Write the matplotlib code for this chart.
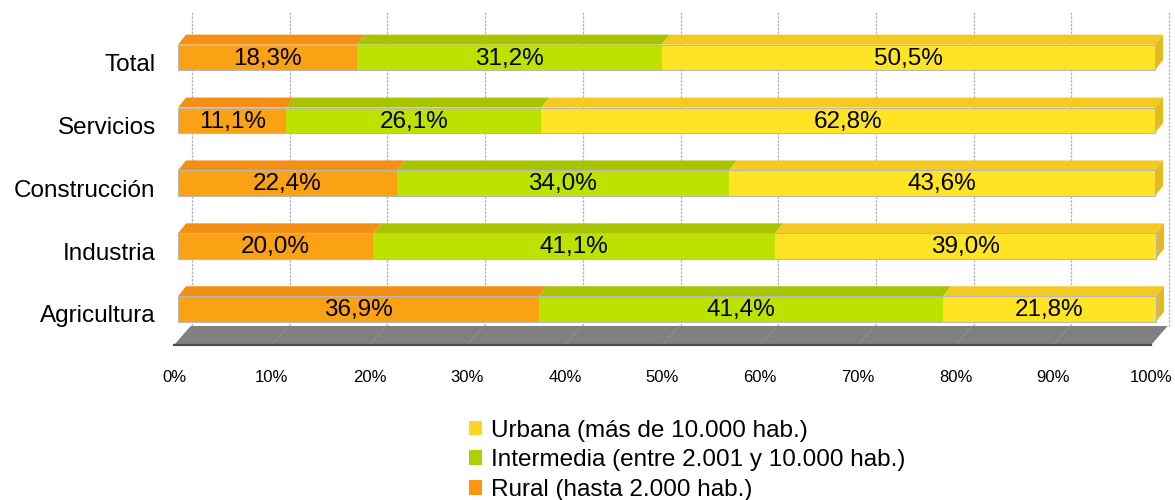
import matplotlib
matplotlib.use('Agg')
from matplotlib import pyplot as plt
from matplotlib.patches import Polygon, Rectangle, Patch
import matplotlib.transforms as mtransforms
import numpy as np

plt.rcParams['font.family'] = ['Liberation Sans', 'DejaVu Sans']

# data (bottom to top)
categories = ['Agricultura', 'Industria', 'Construcción', 'Servicios', 'Total']
rural = [36.9, 20.0, 22.4, 11.1, 18.3]
intermedia = [41.4, 41.1, 34.0, 26.1, 31.2]
urbana = [21.8, 39.0, 43.6, 62.8, 50.5]
series_names = ['Rural (hasta 2.000 hab.)',
                'Intermedia (entre 2.001 y 10.000 hab.)',
                'Urbana (más de 10.000 hab.)']
xticks = [0, 10, 20, 30, 40, 50, 60, 70, 80, 90, 100]

# colours: front face, top face, legend swatch
front_cols = ['#faa214', '#bee200', '#ffe423']
top_cols = ['#f38f12', '#a8c400', '#f4ca22']
side_col = '#e3bb1f'
legend_cols = ['#ff950e', '#aecf00', '#ffd320']

# 3d look (data units)
bar_h = 0.405
dx, dy = 0.82, 0.159          # bar depth
wall_dx = 1.43                # back wall offset
wall_top = 4.72
floor_y0, floor_y1 = -0.572, -0.27
floor_x0, floor_dx = -0.41, 1.71

fig = plt.figure(figsize=(11.75, 5.0), dpi=100)
ax = fig.add_axes([0.13486, 0.2688, 0.8648, 0.7234])
ax.set_xlim(-2, 102)
ax.set_ylim(-0.9, 4.85)
for s in ax.spines.values():
    s.set_visible(False)

# back wall grid
for t in xticks:
    ax.plot([t + wall_dx, t + wall_dx], [floor_y1, wall_top], color='#b3b3b3',
            lw=0.9, ls=(0, (2, 1)), zorder=1)

# floor
fl = Polygon([(floor_x0, floor_y0), (floor_x0 + 100, floor_y0),
              (floor_x0 + 100 + floor_dx, floor_y1), (floor_x0 + floor_dx, floor_y1)],
             closed=True, facecolor='#808080', edgecolor='none', zorder=2)
ax.add_patch(fl)
for t in xticks[1:-1]:
    ax.plot([t + floor_x0, t + floor_x0 + floor_dx], [floor_y0, floor_y1],
            color='#8e8e8e', lw=0.7, zorder=2)
ax.plot([floor_x0, floor_x0 + 100], [floor_y0, floor_y0], color='#4d4d4d', lw=1.6, zorder=3)

# bars
data = np.array([rural, intermedia, urbana])
for i in range(len(categories)):
    left = 0
    y0 = i - bar_h / 2
    y1 = i + bar_h / 2
    for k in range(3):
        w = data[k][i]
        ax.add_patch(Rectangle((left, y0), w, bar_h, facecolor=front_cols[k],
                               edgecolor='none', zorder=4))
        ax.add_patch(Polygon([(left, y1), (left + w, y1), (left + w + dx, y1 + dy),
                              (left + dx, y1 + dy)], closed=True,
                             facecolor=top_cols[k], edgecolor='none', zorder=4))
        ax.text(left + w / 2, i - 0.02, ('%.1f%%' % w).replace('.', ','), ha='center',
                va='center', fontsize=17.5, zorder=6)
        left += w
    ax.add_patch(Polygon([(left, y0), (left, y1), (left + dx, y1 + dy), (left + dx, y0 + dy)],
                         closed=True, facecolor=side_col, edgecolor='none', zorder=4))
    ax.add_patch(Rectangle((0, y0), left, bar_h, facecolor='none', edgecolor='#b8b8b8',
                           lw=0.8, zorder=5))

ax.set_yticks(range(len(categories)))
ax.set_yticklabels(categories, fontsize=17.5)
ax.set_xticks(np.array(xticks) + floor_x0)
ax.set_xticklabels(['%d%%' % t for t in xticks], fontsize=12)
ax.tick_params(length=0, pad=3)
ax.tick_params(axis='y', pad=2)
# category labels sit a little below the bar centres
shift = mtransforms.ScaledTranslation(0, -5 / 100, fig.dpi_scale_trans)
for lab in ax.get_yticklabels():
    lab.set_transform(lab.get_transform() + shift)

handles = [Patch(facecolor=legend_cols[k], edgecolor='none') for k in [2, 1, 0]]
labels = [series_names[k] for k in [2, 1, 0]]
fig.legend(handles, labels, loc='upper left', bbox_to_anchor=(0.399, 0.161),
           frameon=False, fontsize=17.5, borderpad=0, borderaxespad=0,
           handlelength=0.55, handleheight=0.55, handletextpad=0.35, labelspacing=0.32)

fig.savefig('out.png', dpi=100)
